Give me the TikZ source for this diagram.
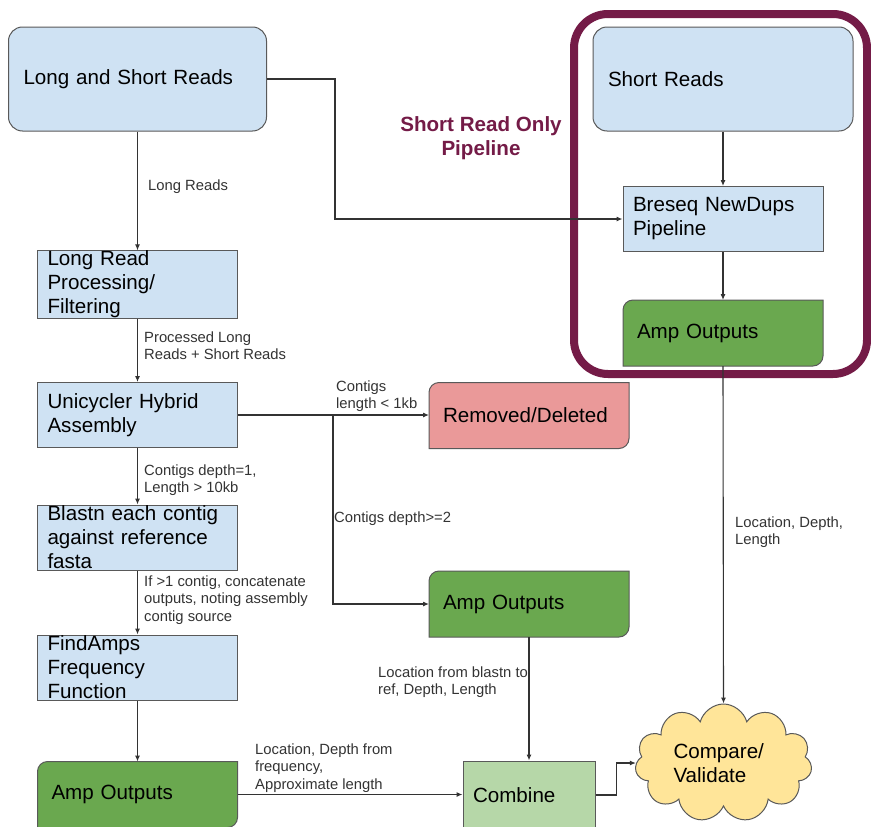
\documentclass[tikz,border=0pt]{standalone}
\usepackage{fontspec}
\setmainfont{Liberation Sans}
\usetikzlibrary{arrows.meta,shapes.symbols,backgrounds}

\definecolor{readblue}{HTML}{CFE2F3}
\definecolor{ampgreen}{HTML}{6AA84F}
\definecolor{combgreen}{HTML}{B6D7A8}
\definecolor{delpink}{HTML}{EA9999}
\definecolor{cmpyellow}{HTML}{FFE599}
\definecolor{pipemaroon}{HTML}{741B47}
\definecolor{edgegray}{HTML}{595959}

\newcommand{\boxfont}{\fontsize{20.6}{24}\selectfont}
\newcommand{\labfont}{\fontsize{14.8}{17.5}\selectfont}

% box with round top left and bottom right corner
\newcommand{\softbox}[2]{%
  \draw[line width=1pt, draw=edgegray, fill=#2] (#1.south west) -- ([yshift=-10pt]#1.north west)
    .. controls ([yshift=-4.5pt]#1.north west) and ([xshift=4.5pt]#1.north west) .. ([xshift=10pt]#1.north west)
    -- (#1.north east) -- ([yshift=10pt]#1.south east)
    .. controls ([yshift=4.5pt]#1.south east) and ([xshift=-4.5pt]#1.south east) .. ([xshift=-10pt]#1.south east)
    -- cycle;}

\tikzset{
  readsbox/.style={draw=edgegray, line width=1pt, fill=readblue, rounded corners=14pt, minimum height=104pt, text width=228pt, inner xsep=15pt, inner ysep=0pt, align=left, font=\boxfont},
  stepbox/.style={draw=edgegray, line width=1pt, fill=readblue, minimum height=65pt, text width=180pt, inner xsep=10pt, inner ysep=0pt, align=left, font=\boxfont},
  ampbox/.style={outer sep=0pt, minimum height=66pt, text width=172pt, inner xsep=14pt, inner ysep=0pt, align=left, font=\boxfont},
  combbox/.style={draw=edgegray, line width=1pt, fill=combgreen, minimum height=68pt, text width=112pt, inner xsep=10pt, inner ysep=0pt, align=left, font=\boxfont},
  cmpcloud/.style={cloud, cloud puffs=11, cloud ignores aspect, draw=edgegray, line width=1pt, fill=cmpyellow, minimum width=177pt, minimum height=118pt, text width=100pt, align=left, font=\boxfont},
  lab/.style={anchor=west, align=left, inner sep=0pt, font=\labfont, text=black!80},
  arr/.style={draw=black!80, line width=1.1pt, -{Latex[length=6pt,width=5pt]}},
  pipeframe/.style={draw=pipemaroon, line width=8pt, rounded corners=34pt}
}

\begin{document}
\begin{tikzpicture}[x=1pt,y=-1pt]
\useasboundingbox (0,0) rectangle (871,827);

% short read only pipeline
\draw[pipeframe] (574,14) rectangle (867,374);
\draw (481,138) node [align=center, font=\bfseries\boxfont, text=pipemaroon] (pipetitle) {Short Read Only\\Pipeline};

\draw (137.5,79) node [readsbox] (lsr) {Long and Short Reads};
\draw (723,79) node [readsbox, text width=230pt] (srd) {Short Reads};
\draw (723,219) node [stepbox] (bre) {Breseq NewDups\\Pipeline};
\draw (723,333) node [ampbox] (ampR) {Amp Outputs};

% hybrid pipeline
\draw (137.5,284.5) node [stepbox] (lrp) {Long Read\\Processing/\\Filtering};
\draw (137.5,415) node [stepbox] (uni) {Unicycler Hybrid\\Assembly};
\draw (137.5,537.5) node [stepbox] (bla) {Blastn each contig\\against reference\\fasta};
\draw (137.5,667.5) node [stepbox] (fam) {FindAmps\\Frequency\\Function};
\draw (137.5,794.5) node [ampbox] (ampL) {Amp Outputs};

\draw (529,415.5) node [ampbox] (rem) {Removed/Deleted};
\draw (529,604) node [ampbox] (ampM) {Amp Outputs};
\draw (529,795) node [combbox] (comb) {Combine};
\draw (723.5,763) node [cmpcloud] (cmp) {Compare/\\Validate};

\begin{scope}[on background layer]
\softbox{ampR}{ampgreen}
\softbox{rem}{delpink}
\softbox{ampM}{ampgreen}
\softbox{ampL}{ampgreen}
\end{scope}

\foreach \a/\b in {lsr/lrp, lrp/uni, uni/bla, bla/fam, fam/ampL, srd/bre, bre/ampR, ampR/cmp, ampM/comb}
	\draw[arr] (\a.south) -- (\b.north);

\draw[arr] (lsr.east) -- ++(68,0) |- (bre.west);
\draw[arr] (uni.east) -- (uni.east -| rem.west);
\coordinate (split) at (333,415);
\draw[arr] (split) |- (ampM.west);
\draw[arr] (ampL.east) -- (ampL.east -| comb.west);
\draw[arr] (comb.east) -- ++(21,0) |- (cmp.west);

\draw (148,187) node [lab] (labLR) {Long Reads};
\draw (144,345.5) node [lab] (labPL) {Processed Long\\Reads + Short Reads};
\draw (144,480) node [lab] (labD1) {Contigs depth=1,\\Length > 10kb};
\draw (144,600) node [lab] (labCC) {If >1 contig, concatenate\\outputs, noting assembly\\contig source};
\draw (336,396) node [lab] (labSm) {Contigs\\length < 1kb};
\draw (334,519) node [lab] (labD2) {Contigs depth>=2};
\draw (378,682) node [lab] (labBl) {Location from blastn to\\ref, Depth, Length};
\draw (255,768) node [lab] (labFq) {Location, Depth from\\frequency,\\Approximate length};
\draw (735,532) node [lab] (labSR) {Location, Depth,\\Length};

\end{tikzpicture}
\end{document}
